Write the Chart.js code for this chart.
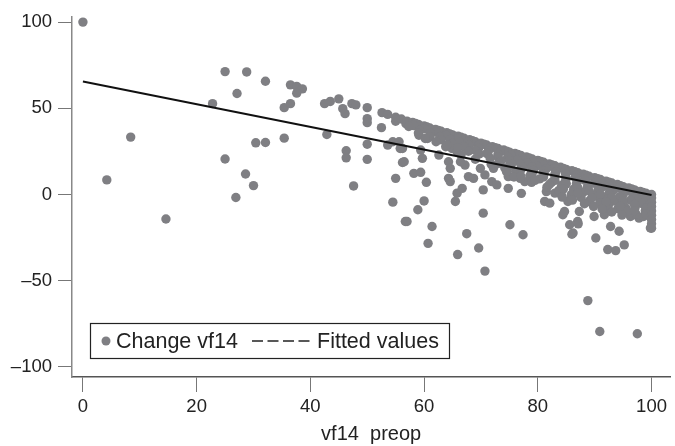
<!DOCTYPE html>
<html>
<head>
<meta charset="utf-8">
<script src="https://cdn.jsdelivr.net/npm/chart.js@4.4.1/dist/chart.umd.min.js"></script>
<style>
  html, body { margin: 0; padding: 0; background: #fff; }
  #wrap { position: relative; width: 675px; height: 446px; }
</style>
</head>
<body>
<div id="wrap"><canvas id="myChart" width="675" height="446"></canvas></div>
<script>
// DATA  [vf14 preop, change vf14]
const scatteredPts = [
  [0,100],[4.2,8.5],[8.4,33.3],[14.6,-14.2],[22.8,52.7],[25,71.3],[25,20.6],[26.9,-1.7],
  [27.1,58.6],[28.8,71.1],[28.6,11.9],[30,5.2],[30.4,30],[32.1,30.2],[32.1,65.7],[35.4,32.7],
  [35.4,50.4],[36.5,52.7],[36.5,63.6],[37.6,62.7],[38.6,61.3],[37.6,58.8],[42.9,34.8],[42.5,52.7],
  [43.5,54],[45,55.5],[45.7,49.8],[46.1,46.9],[47.3,52.7],[48,52],[50,50.4],[52.6,47.5],[53.6,46.5],
  [50,44],[50,41.7],[52.5,38.8],[55,42.5],[56.8,41.1],[46.3,25.4],[46.3,21.3],[50,29.2],[50,20.4],
  [53.6,28.7],[54.5,30.6],[55.6,30.6],[55.8,26.7],[56.2,18.6],[55,9.4],[47.6,5],[54.5,-4.4],
  [56.7,-15.6],[59.1,34.4],[60.6,32.5],[56.2,26.7],[56.5,19],[59.4,25.8],[59.7,21],[58.2,12.3],
  [59.4,12.9],[60.4,7.1],[62.6,22.9],[64.3,19],[64.6,15.2],[64.3,9.4],[64.6,7.5],[65.8,0.8],
  [66.7,3.6],[65.5,-4],[60,-3.7],[58.9,-8.8],[57,-15.6],[61.4,-18.5],[60.7,-28.3],[65.9,-34.8],
  [67.5,-22.7],[69.6,-31],[70.4,2.7],[70.4,-10.8],[70.7,-44.4],[63.8,27.7],[64.9,26.7],[65.8,24.8],
  [66.4,19],[67.2,17.1],[67.8,10.4],[68.7,9.4],[69.9,15.2],[70.7,11.4],[71.9,7.5],[72.2,15.2],
  [72.8,5.6],[74.8,10.4],[74.8,3.6],[77.1,0.7],[77.7,7.5],[76.9,9.4],[75.1,-17.5],[77.4,-23.3],
  [81.2,-4],[82.1,-5],[81.5,1.7],[83,0.8],[84.1,0],[85.3,-4],[85.9,-2.1],[84.4,-11.7],[84.7,-9.8],
  [85.6,-17.5],[86.2,-22.3],[77.7,17.1],[78.9,13.3],[89.9,-12.7],[91.7,-11.7],[87,-15.6],[87.1,-17],
  [86,-23],[87.3,-9.8],[89,-4],[90.8,-2.1],[92,-7.9],[94.3,-4],[95.5,-7.9],[97.2,-11.7],
  [92.8,-18.5],[94.3,-21.3],[90.2,-25.2],[92.3,-31.9],[93.7,-32.5],[95.2,-29.2],[96.3,-12.7],
  [97.8,-13.7],[94.6,-5],[88.8,-61.5],[90.9,-79.4],[97.5,-80.7],[99.8,-19.4]
];
const bandTop = [
  [55,44.8],[56,43.8],[57,42.6],[58,41.8],[59,40.7],[60,39.8],[61,38.6],[62,37.8],[63,36.7],
  [64,35.8],[65,34.6],[66,33.8],[67,32.7],[68,31.8],[69,30.6],[70,29.8],[71,28.7],[72,27.8],
  [73,26.7],[74,25.8],[75,24.6],[76,23.8],[77,22.7],[78,21.8],[79,20.6],[80,19.8],[81,18.7],
  [82,17.8],[83,16.7],[84,15.8],[85,14.6],[86,13.8],[87,12.7],[88,11.8],[89,10.6],[90,9.8],
  [91,8.7],[92,7.8],[93,6.7],[94,5.8],[95,4.6],[96,3.8],[97,2.7],[98,1.8],[99,0.8],[100,0],
  [58.5,41.2],[60.5,39.2],[62.5,37.2],[64.5,35.2],[66.5,33.2],[68.5,31.2],[70.5,29.2],[72.5,27.2],
  [74.5,25.2],[76.5,23.2],[78.5,21.2],[80.5,19.2],[82.5,17.2],[84.5,15.2],[86.5,13.2],[88.5,11.2],
  [90.5,9.2],[92.5,7.2],[94.5,5.2],[96.5,3.2],[98.5,1.2],
  [58.2,40],[60.1,38.1],[62,36.2],[63.9,34.3],[65.8,32.4],[67.7,30.5],[69.6,28.6],[71.5,26.7],
  [73.4,24.8],[75.3,22.9],[77.2,21],[79.1,19.1],[81,17.2],[82.9,15.3],[84.8,13.4],[86.7,11.5],
  [88.6,9.6],[90.5,7.7],[92.4,5.8],[94.3,3.9],[96.2,2],[98.1,0.1],[99.5,-1]
];
const bandMid = [
  [57.3,39.5],[59.2,37.2],[61.1,35.6],[62.8,33.5],[64.6,32],[66.2,30.3],[67.9,28.6],[69.6,27],
  [71.3,25.1],[73,23.4],[74.7,21.8],[76.4,20.1],[78.1,18.3],[79.8,16.6],[81.5,15],[83.2,13.2],
  [84.9,11.6],[86.6,9.8],[88.3,8.2],[90,6.5],[91.7,4.8],[93.4,3],[95.1,1.4],[96.8,-0.3],[98.5,-1.9],
  [59,35.7],[61,33.6],[63,31.8],[65,29.6],[67,27.8],[69,25.6],[71,23.8],[73,21.6],[75,19.8],
  [77,17.6],[79,15.8],[81,13.6],[83,11.8],[85,9.6],[87,7.8],[89,5.6],[91,3.8],[93,1.6],
  [95,-0.2],[97,-2.4],[99,-4.2],
  [60.2,32.5],[62.1,30.6],[64,28.8],[65.9,27.2],[67.8,25.1],[69.7,23.5],[71.6,21.2],[73.5,19.6],
  [75.4,17.8],[77.3,15.8],[79.2,14],[81.1,12],[83,10.2],[84.9,8.3],[86.8,6.4],[88.7,4.2],
  [90.6,2.6],[92.5,0.6],[94.4,-1.2],[96.3,-3.3],[98.2,-5.1]
];
const bandLow = [
  [66.5,23],[69,20.5],[71.8,17.6],[74.2,15.4],[76.1,13.2],[78.6,10.8],[80.3,9.1],[82.4,7],
  [84.2,5.4],[86.3,3.1],[88,1.4],[89.7,-0.3],[91.6,-2.2],[93.2,-3.8],[95,-5.5],[97.1,-7.7],[98.9,-9.4],
  [73.1,18.1],[75,16.2],[77,14.2],[79,12.2],[81,10.2],[83,8.2],[85,6.2],[87,4.2],[89,2.2],
  [91,0.2],[93,-1.8],[95,-3.8],[97,-5.8],[99,-7.8],
  [75.8,10.2],[78.9,7.1],[81.6,4.3],[83.7,2.4],[85.9,0],[87.6,-1.7],[89.2,-3.4],[90.9,-4.8],
  [92.4,-6.5],[94.1,-8.2],[95.7,-9.8],[97.3,-11.4],[98.6,-12.7],
  [74.5,13.2],[77,10.7],[79.5,8.2],[82,5.7],[84.5,3.2],[87,0.7],[89.5,-1.8],[92,-4.3],
  [94.5,-6.8],[97,-9.3],[99,-11.3],
  [84.3,-1.5],[86.1,-3.2],[88.2,-5.3],[89.8,-6.9],[91.3,-8.4],[93,-10.1],[94.8,-11.9],
  [100,-2],[100,-4.5],[100,-7],[100,-9.5],[100,-12],[100,-14.5],[100,-17],[100,-19.5]
];
const fitX = [0, 100];
const fitY = [65.6, -0.2];
const xTicks = [0, 20, 40, 60, 80, 100];
const yTicks = [-100, -50, 0, 50, 100];

const grey = '#7f7f83';
const font = '"Liberation Sans", Arial, Helvetica, sans-serif';
const allPts = scatteredPts.concat(bandTop, bandMid, bandLow).map(p => ({ x: p[0], y: p[1] }));

// legend drawn inside the plot
const legendBox = {
  id: 'legendBox',
  afterDraw(chart) {
    const c = chart.ctx;
    c.save();
    c.fillStyle = '#fff';
    c.fillRect(90, 323, 359, 35);
    c.strokeStyle = '#222';
    c.lineWidth = 1.2;
    c.strokeRect(90.5, 323.5, 359, 35);
    c.fillStyle = grey;
    c.beginPath();
    c.arc(106, 341, 4.5, 0, Math.PI * 2);
    c.fill();
    c.fillStyle = '#222';
    c.font = '21.5px ' + font;
    c.textBaseline = 'middle';
    c.fillText('Change vf14', 116, 342);
    c.strokeStyle = '#222';
    c.lineWidth = 1.5;
    c.setLineDash([11, 4.5]);
    c.beginPath();
    c.moveTo(252, 341);
    c.lineTo(310, 341);
    c.stroke();
    c.setLineDash([]);
    c.fillText('Fitted values', 317, 342);
    c.restore();
  }
};

const ctx = document.getElementById('myChart').getContext('2d');
const chart = new Chart(ctx, {
  type: 'scatter',
  data: {
    datasets: [{
      label: 'Fitted values',
      data: fitX.map((x, i) => ({ x: x, y: fitY[i] })),
      showLine: true,
      borderColor: '#111',
      borderWidth: 2,
      pointRadius: 0,
      order: 0
    }, {
      label: 'Change vf14',
      data: allPts,
      backgroundColor: grey,
      borderWidth: 0,
      pointRadius: 4.7,
      order: 1
    }]
  },
  options: {
    responsive: false,
    animation: false,
    devicePixelRatio: 1,
    layout: { padding: { top: 15, right: 0, left: 0, bottom: 0 } },
    plugins: { legend: { display: false }, tooltip: { enabled: false } },
    scales: {
      x: {
        type: 'linear',
        min: -1.92,
        max: 103.3,
        afterBuildTicks: s => { s.ticks = xTicks.map(v => ({ value: v })); },
        afterFit: s => { s.height = 69; },
        ticks: { font: { family: font, size: 18.5 }, color: '#222', padding: 4, maxRotation: 0, autoSkip: false },
        grid: { drawOnChartArea: false, drawTicks: true, tickLength: 15, color: '#777' },
        border: { color: '#555', width: 1.5 },
        title: { display: true, text: 'vf14  preop', font: { family: font, size: 20 }, color: '#222', padding: 0 }
      },
      y: {
        min: -105.8,
        max: 102.9,
        afterBuildTicks: s => { s.ticks = yTicks.map(v => ({ value: v })); },
        afterFit: s => { s.width = 72; },
        ticks: {
          font: { family: font, size: 18.5 }, color: '#222', padding: 6,
          callback: v => v < 0 ? '\u2013' + Math.abs(v) : String(v)
        },
        grid: { drawOnChartArea: false, drawTicks: true, tickLength: 14, color: '#777' },
        border: { color: '#888', width: 1.5 }
      }
    }
  },
  plugins: [legendBox]
});
</script>
</body>
</html>
